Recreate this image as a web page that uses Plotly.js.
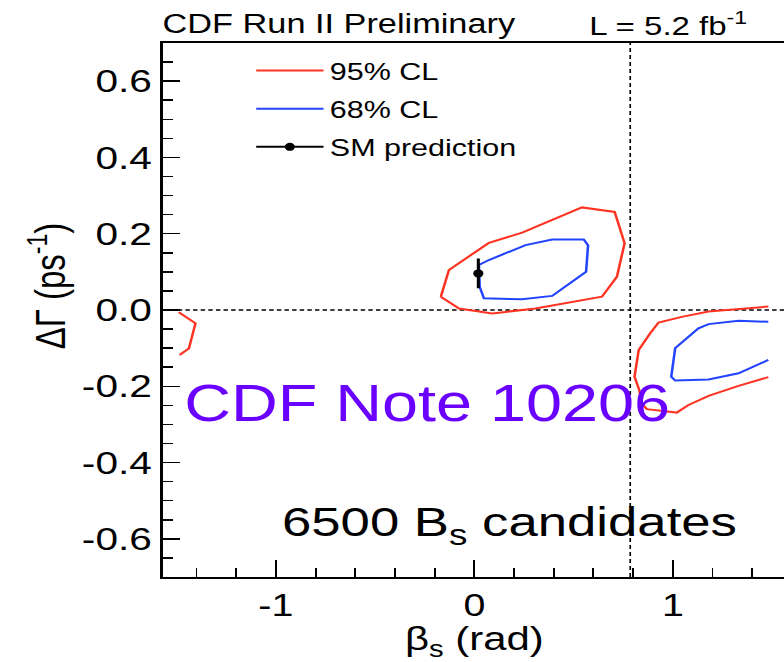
<!DOCTYPE html>
<html>
<head>
<meta charset="utf-8">
<script src="https://cdn.plot.ly/plotly-3.0.1.min.js"></script>
<style>
  html, body { margin: 0; padding: 0; overflow: hidden; background: #fff; }
  /* ROOT-style canvas is drawn a bit wide, so the figure is stretched horizontally */
  #wrap { width: 630px; height: 662px; transform: scaleX(1.27); transform-origin: 0 0; }
</style>
</head>
<body>
<div id="wrap"><div id="chart"></div></div>
<script>
// Confidence-region contours in the (beta_s, Delta Gamma) plane
const red95MainX  = [-0.169, -0.128, 0.073, 0.241, 0.542, 0.707, 0.757, 0.718, 0.643, 0.308, 0.090, -0.077, -0.169];
const red95MainY  = [0.035, 0.105, 0.176, 0.203, 0.269, 0.257, 0.175, 0.087, 0.035, 0.004, -0.009, 0.004, 0.035];
const red95LeftX  = [-1.489, -1.405, -1.438, -1.485];
const red95LeftY  = [-0.006, -0.035, -0.101, -0.118];
const red95RightX = [1.481, 1.364, 1.180, 1.045, 0.928, 0.886, 0.828, 0.807, 0.831, 0.844, 0.869, 1.020, 1.079, 1.180, 1.331, 1.481];
const red95RightY = [0.009, 0.004, -0.004, -0.018, -0.033, -0.061, -0.105, -0.175, -0.210, -0.245, -0.260, -0.269, -0.249, -0.225, -0.199, -0.176];

const blue68MainX  = [0.027, 0.023, 0.073, 0.258, 0.392, 0.551, 0.573, 0.563, 0.392, 0.241, 0.048, 0.027];
const blue68MainY  = [0.061, 0.118, 0.131, 0.170, 0.185, 0.185, 0.170, 0.100, 0.037, 0.028, 0.031, 0.061];
const blue68RightX = [1.481, 1.331, 1.180, 1.129, 1.012, 0.992, 1.012, 1.180, 1.331, 1.481];
const blue68RightY = [-0.031, -0.028, -0.037, -0.048, -0.100, -0.175, -0.185, -0.182, -0.166, -0.131];

// Standard Model expectation
const smBeta = [0.02];
const smDeltaGamma = [0.096];
const smError = [0.039];

// Reference lines
const refBeta = Math.PI / 4;
const refDeltaGamma = 0;

// Axis ticks
const xTickVals = [-1, 0, 1];
const xTickText = ['-1', '0', '1'];
const yTickVals = [-0.6, -0.4, -0.2, 0.0, 0.2, 0.4, 0.6];
const yTickText = ['-0.6', '-0.4', '-0.2', '0.0', '0.2', '0.4', '0.6'];

const joinSegments = (...segs) => segs.reduce((acc, s, i) => i ? acc.concat([null], s) : acc.concat(s), []);

const FONT = 'Liberation Sans, Arial, Helvetica, sans-serif';

const traces = [
  {
    name: '95% CL', legendgroup: 'a', type: 'scatter', mode: 'lines',
    x: joinSegments(red95MainX, red95LeftX, red95RightX),
    y: joinSegments(red95MainY, red95LeftY, red95RightY),
    line: { color: '#ff3322', width: 2 }, connectgaps: false, hoverinfo: 'skip'
  },
  {
    name: '68% CL', legendgroup: 'b', type: 'scatter', mode: 'lines',
    x: joinSegments(blue68MainX, blue68RightX),
    y: joinSegments(blue68MainY, blue68RightY),
    line: { color: '#2244ff', width: 2 }, connectgaps: false, hoverinfo: 'skip'
  },
  {
    name: 'SM prediction', legendgroup: 'c', type: 'scatter', mode: 'lines+markers',
    x: smBeta, y: smDeltaGamma,
    line: { color: '#000', width: 2 },
    marker: { color: '#000', size: 8 },
    error_y: { type: 'data', array: smError, visible: true, color: '#000', thickness: 2.4, width: 0 }
  }
];

const layout = {
  width: 630, height: 662,
  margin: { l: 128, r: 11, t: 43, b: 85 },
  paper_bgcolor: '#fff', plot_bgcolor: '#fff',
  font: { family: FONT, color: '#000' },
  title: {
    text: 'CDF Run II Preliminary', font: { family: FONT, size: 27, color: '#000' },
    xref: 'container', x: 128 / 630, xanchor: 'left', y: 1 - 24 / 662, yanchor: 'middle'
  },
  showlegend: true,
  legend: {
    x: 0.14, xanchor: 'left', y: 0.99, yanchor: 'top',
    bgcolor: 'rgba(0,0,0,0)', borderwidth: 0,
    font: { family: FONT, size: 24, color: '#000' },
    itemwidth: 53, traceorder: 'grouped', tracegroupgap: 4
  },
  xaxis: {
    range: [-Math.PI / 2, Math.PI / 2],
    tickmode: 'array', tickvals: xTickVals, ticktext: xTickText,
    ticks: 'inside', ticklen: 17, tickwidth: 1.5, tickcolor: '#000',
    minor: { tickmode: 'linear', tick0: 0, dtick: 0.2, ticks: 'inside', ticklen: 9, tickwidth: 1.5, tickcolor: '#000' },
    showline: true, linecolor: '#000', linewidth: 2, mirror: true,
    showgrid: false, zeroline: false,
    tickfont: { family: FONT, size: 31, color: '#000' },
    title: { text: 'β<sub>s</sub> (rad)', font: { family: FONT, size: 33, color: '#000' }, standoff: 0 }
  },
  yaxis: {
    range: [-0.7, 0.7],
    tickmode: 'array', tickvals: yTickVals, ticktext: yTickText,
    ticks: 'inside', ticklen: 14, tickwidth: 1.5, tickcolor: '#000',
    minor: { tickmode: 'linear', tick0: 0, dtick: 0.05, ticks: 'inside', ticklen: 8, tickwidth: 1.5, tickcolor: '#000' },
    showline: true, linecolor: '#000', linewidth: 2, mirror: true,
    showgrid: false, zeroline: false,
    tickfont: { family: FONT, size: 32, color: '#000' },
    title: { text: 'ΔΓ (ps<sup>-1</sup>)', font: { family: FONT, size: 33, color: '#000' }, standoff: 3 }
  },
  shapes: [
    { type: 'line', xref: 'x', yref: 'paper', x0: refBeta, x1: refBeta, y0: 0, y1: 1,
      line: { color: '#000', width: 1.3, dash: '4px,3px' }, layer: 'below' },
    { type: 'line', xref: 'paper', yref: 'y', x0: 0, x1: 1, y0: refDeltaGamma, y1: refDeltaGamma,
      line: { color: '#000', width: 1.3, dash: '3.5px,2.5px' }, layer: 'below' }
  ],
  annotations: [
    { text: 'L = 5.2 fb<sup>-1</sup>', xref: 'paper', yref: 'paper', x: 0.680, y: 1 + 19 / 534,
      xanchor: 'left', yanchor: 'middle', showarrow: false, font: { family: FONT, size: 26, color: '#000' } },
    { text: 'CDF Note 10206', xref: 'paper', yref: 'paper', x: 0.425, y: 0.324,
      xanchor: 'center', yanchor: 'middle', showarrow: false, font: { family: FONT, size: 51, color: '#6a00ff' } },
    { text: '6500 B<sub>s</sub> candidates', xref: 'paper', yref: 'paper', x: 0.556, y: 0.099,
      xanchor: 'center', yanchor: 'middle', showarrow: false, font: { family: FONT, size: 41.5, color: '#000' } }
  ]
};

Plotly.newPlot('chart', traces, layout, { displayModeBar: false, staticPlot: true }).then(() => {
  // ROOT places its y-axis title toward the upper end rather than centred
  const yTitle = document.querySelector('#chart .g-ytitle');
  if (yTitle) yTitle.setAttribute('transform', 'translate(0,-24)');
  const xTitle = document.querySelector('#chart .g-xtitle');
  if (xTitle) xTitle.setAttribute('transform', 'translate(0,5)');
});
</script>
</body>
</html>
